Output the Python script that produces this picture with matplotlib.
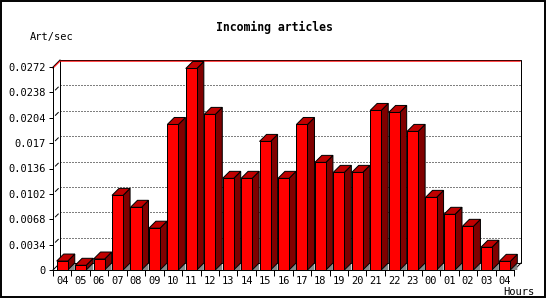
import matplotlib
matplotlib.use('Agg')
import matplotlib.pyplot as plt
from matplotlib.patches import Polygon, Rectangle
import matplotlib.transforms as mtransforms

# data
hours = ['04', '05', '06', '07', '08', '09', '10', '11', '12', '13', '14', '15', '16',
         '17', '18', '19', '20', '21', '22', '23', '00', '01', '02', '03', '04']
rate = [0.0012, 0.00063, 0.00147, 0.0100, 0.0084, 0.0056, 0.0195, 0.0270, 0.02085,
        0.01228, 0.01228, 0.01723, 0.01228, 0.0195, 0.01442, 0.01308, 0.01308,
        0.02138, 0.02111, 0.01857, 0.00973, 0.00746, 0.00585, 0.00304, 0.00116]
yticks = [0, 0.0034, 0.0068, 0.0102, 0.0136, 0.017, 0.0204, 0.0238, 0.0272]
ylabels = ['0', '0.0034', '0.0068', '0.0102', '0.0136', '0.017', '0.0204', '0.0238', '0.0272']

MONO = ['DejaVu Sans Mono']
LW = 0.72  # one pixel at 100 dpi

fig = plt.figure(figsize=(5.5, 3), dpi=100)
fig.patch.set_facecolor('white')

ax = fig.add_axes([53/550, 30/300, 461/550, 203/300])
n = len(hours)
xmin, xmax = -0.5, n - 0.5
ymax = yticks[-1]
ax.set_xlim(xmin, xmax)
ax.set_ylim(0, ymax)
ax.patch.set_visible(False)

# 3d depth, 7 px both ways
dx = 7 * (xmax - xmin) / 461
dy = 7 * ymax / 203
w = 0.6

# back wall
ax.add_patch(Polygon([(xmin+dx, dy), (xmax+dx, dy), (xmax+dx, ymax+dy), (xmin+dx, ymax+dy)],
                     closed=True, facecolor='white', edgecolor='black', lw=LW,
                     zorder=0, clip_on=False))
down1 = mtransforms.offset_copy(ax.transData, fig=fig, x=0, y=-1.2, units='dots')
ax.plot([xmin, xmin+dx, xmax+dx - 0.04], [ymax, ymax+dy, ymax+dy], color='red', lw=LW,
        transform=down1, clip_on=False, zorder=0.5)
# floor / side edges
ax.plot([xmin, xmin+dx], [0, dy], color='black', lw=LW, clip_on=False, zorder=0.5)
ax.plot([xmax, xmax+dx], [0, dy], color='black', lw=LW, clip_on=False, zorder=0.5)
ax.plot([xmin, xmin+dx], [ymax, ymax+dy], color='black', lw=LW, clip_on=False, zorder=0.4)

# grid lines on the back wall and the side wall
for t in yticks[1:-1]:
    ax.plot([xmin+dx, xmax+dx], [t+dy, t+dy], color='black', lw=LW,
            linestyle=(0, (1, 2)), clip_on=False, zorder=1)
    ax.plot([xmin+0.35*dx, xmin+0.75*dx], [t+0.35*dy, t+0.75*dy], color='black', lw=LW,
            clip_on=False, zorder=1)

# bars
for i, v in enumerate(rate):
    xl, xr = i - w/2, i + w/2
    z = 2 + i * 0.01
    ax.add_patch(Polygon([(xr, 0), (xr+dx, dy), (xr+dx, 0)], closed=True,
                         facecolor='#888888', edgecolor='none', zorder=z, clip_on=False))
    ax.add_patch(Polygon([(xr, 0), (xr+dx, dy), (xr+dx, v+dy), (xr, v)], closed=True,
                         facecolor='#800000', edgecolor='black', lw=LW, zorder=z, clip_on=False))
    ax.add_patch(Polygon([(xl, v), (xr, v), (xr+dx, v+dy), (xl+dx, v+dy)], closed=True,
                         facecolor='#c00000', edgecolor='black', lw=LW, zorder=z, clip_on=False))
    ax.add_patch(Rectangle((xl, 0), w, v, facecolor='#ff0000', edgecolor='black',
                           lw=LW, zorder=z, clip_on=False))

# axes
for s in ['top', 'right']:
    ax.spines[s].set_visible(False)
for s in ['left', 'bottom']:
    ax.spines[s].set_linewidth(LW)
    ax.spines[s].set_zorder(3)
ax.set_yticks(yticks)
ax.set_yticklabels(ylabels, family=MONO, fontsize=7.5)
ax.tick_params(axis='y', length=3, width=LW, pad=2)
ax.set_xticks([xmin + k for k in range(n + 1)])
ax.set_xticklabels([])
ax.tick_params(axis='x', which='major', length=4, width=LW)
ax.set_xticks(range(n), minor=True)
ax.set_xticklabels(hours, minor=True, family=MONO, fontsize=7.5)
ax.tick_params(axis='x', which='minor', length=0, pad=4)

fig.text(274/550, 1 - 27/300, 'Incoming articles', ha='center', va='center',
         family=MONO, fontweight='bold', fontsize=8.3)
fig.text(30/550, 1 - 37/300, 'Art/sec', ha='left', va='center', family=MONO, fontsize=7.5)
fig.text(534/550, 1 - 292/300, 'Hours', ha='right', va='center', family=MONO, fontsize=7.5)

# outer frame
fig.patches.append(Rectangle((0.5/550, 3.5/300), 544/550, 296/300, transform=fig.transFigure,
                             facecolor='none', edgecolor='black', lw=1.4))

fig.savefig('out.png', dpi=100)
